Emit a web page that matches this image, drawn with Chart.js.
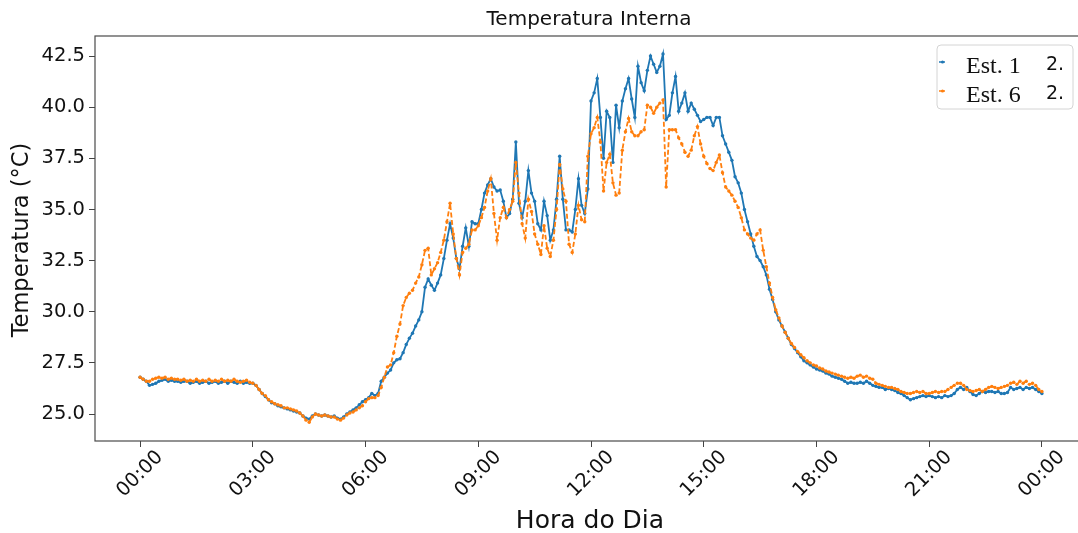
<!DOCTYPE html>
<html>
<head>
<meta charset="utf-8">
<script src="https://cdn.jsdelivr.net/npm/chart.js@4"></script>
<style>
  html, body { margin: 0; padding: 0; background: #fff; overflow: hidden; width: 1078px; height: 533px; }
  canvas { display: block; }
</style>
</head>
<body>
<canvas id="chart" width="1100" height="533"></canvas>
<script>
// Internal temperature, one reading every 5 minutes (00:00 .. 24:00), one row per hour
const SAMPLE_MINUTES = 5;

const est1 = [
  26.8, 26.7, 26.6, 26.4, 26.45, 26.5, 26.6, 26.65, 26.7, 26.6, 26.65, 26.6,
  26.6, 26.55, 26.6, 26.6, 26.5, 26.55, 26.6, 26.5, 26.55, 26.6, 26.5, 26.55,
  26.6, 26.5, 26.55, 26.6, 26.5, 26.6, 26.55, 26.5, 26.6, 26.5, 26.55, 26.5,
  26.5, 26.4, 26.2, 26.0, 25.85, 25.7, 25.55, 25.5, 25.4, 25.35, 25.3, 25.25,
  25.2, 25.15, 25.1, 25.05, 24.9, 24.8, 24.75, 24.9, 25.0, 24.95, 24.9, 24.95,
  24.9, 24.85, 24.9, 24.8, 24.75, 24.85, 25.0, 25.1, 25.2, 25.3, 25.45, 25.6,
  25.7, 25.8, 26.0, 25.9, 26.0, 26.6, 26.8, 27.0, 27.15, 27.5, 27.65, 27.7,
  28.0, 28.4, 28.7, 28.95, 29.3, 29.6, 30.0, 31.2, 31.6, 31.3, 31.05, 31.4,
  31.8, 32.6, 33.5, 34.3, 33.6, 32.6, 32.1, 33.2, 34.1, 33.2, 34.4, 34.3,
  34.3, 35.0, 35.8, 36.2, 36.5, 36.1, 35.9, 35.95, 35.4, 34.6, 34.8, 35.5,
  38.3, 35.3, 34.6, 35.4, 36.9, 35.8, 35.4, 34.3, 34.0, 35.4, 34.7, 33.5,
  34.0, 35.5, 37.6, 35.5, 34.0, 34.0, 33.9, 35.0, 36.5, 35.2, 34.8, 36.0,
  40.3, 40.7, 41.4, 39.5, 37.5, 39.8, 39.5, 37.3, 40.1, 39.0, 40.3, 40.9,
  41.4, 40.4, 39.5, 42.0, 41.2, 40.8, 41.8, 42.5, 42.1, 41.7, 42.0, 42.6,
  39.4, 39.6, 40.7, 41.5, 39.8, 40.2, 40.7, 39.8, 40.2, 39.9, 39.6, 39.3,
  39.4, 39.5, 39.5, 39.1, 39.5, 39.5, 38.6, 38.2, 37.8, 37.4, 36.6, 36.3,
  35.8, 35.0, 34.4, 33.8, 33.2, 32.7, 32.5, 32.2, 31.8, 31.1, 30.6, 30.0,
  29.6, 29.3, 29.0, 28.7, 28.4, 28.2, 28.0, 27.8, 27.6, 27.5, 27.4, 27.3,
  27.2, 27.15, 27.1, 27.0, 26.95, 26.85, 26.8, 26.75, 26.7, 26.6, 26.5, 26.55,
  26.5, 26.5, 26.55, 26.5, 26.6, 26.5, 26.4, 26.35, 26.3, 26.3, 26.2, 26.25,
  26.2, 26.15, 26.05, 26.0, 25.9, 25.8, 25.7, 25.75, 25.8, 25.85, 25.9, 25.85,
  25.9, 25.85, 25.8, 25.85, 25.8, 25.9, 25.85, 25.9, 26.0, 26.2, 26.3, 26.2,
  26.3, 26.1, 25.95, 25.9, 26.0, 26.1, 26.05, 26.1, 26.1, 26.05, 26.1, 26.0,
  26.0, 26.05, 26.3, 26.2, 26.25, 26.3, 26.2, 26.3, 26.25, 26.3, 26.2, 26.1,
  26.0
];

const est6 = [
  26.8, 26.7, 26.6, 26.6, 26.7, 26.75, 26.8, 26.75, 26.8, 26.7, 26.75, 26.7,
  26.7, 26.65, 26.7, 26.6, 26.65, 26.6, 26.7, 26.6, 26.65, 26.6, 26.7, 26.6,
  26.65, 26.6, 26.7, 26.6, 26.65, 26.6, 26.7, 26.6, 26.55, 26.6, 26.65, 26.55,
  26.5, 26.4, 26.2, 26.0, 25.9, 25.7, 25.6, 25.5, 25.45, 25.4, 25.3, 25.3,
  25.25, 25.2, 25.15, 25.05, 24.9, 24.7, 24.6, 24.85, 25.0, 24.95, 24.9, 24.95,
  24.9, 24.85, 24.85, 24.75, 24.7, 24.8, 24.95, 25.05, 25.1, 25.2, 25.3, 25.4,
  25.6, 25.75, 25.8, 25.8, 25.9, 26.3, 26.8, 27.3, 27.4, 28.0, 28.8, 29.4,
  30.3, 30.7, 30.9, 31.05, 31.4, 31.7, 32.3, 33.0, 33.1, 31.8, 32.1, 32.4,
  32.9, 33.5, 34.4, 35.3, 33.8, 32.6, 31.8, 32.9, 33.1, 33.3, 34.0, 34.0,
  34.2, 34.6, 35.1, 35.9, 36.5, 34.8, 33.5, 34.6, 35.1, 34.6, 35.0, 35.4,
  37.3, 35.8, 34.3, 33.6, 35.5, 34.9, 33.8, 33.3, 32.8, 34.2, 33.1, 32.7,
  33.5, 35.0, 37.2, 36.0, 35.4, 33.3, 32.9, 33.8, 35.2, 34.5, 34.4, 37.6,
  38.7, 39.0, 39.5, 38.3, 35.9, 37.3, 37.7, 36.3, 35.7, 35.8, 37.9, 38.8,
  39.45, 38.8, 38.6, 38.6, 38.8, 38.9, 40.1, 40.0, 39.7, 40.0, 40.2, 40.35,
  36.1, 38.9, 38.9, 38.9, 38.5, 38.2, 37.8, 37.6, 37.9, 38.6, 39.05, 38.2,
  37.6, 37.25, 37.0, 36.9, 37.3, 37.66, 36.8, 36.1, 35.9, 35.7, 35.4, 35.1,
  34.6, 34.0, 33.8, 33.6, 33.5, 33.8, 34.0, 33.0, 32.2, 31.4, 30.7, 30.1,
  29.7, 29.3, 29.0, 28.7, 28.45, 28.25, 28.05, 27.9, 27.75, 27.6, 27.5, 27.4,
  27.35, 27.25, 27.2, 27.1, 27.05, 27.0, 26.95, 26.9, 26.85, 26.8, 26.75, 26.8,
  26.75, 26.85, 26.9, 26.8, 26.85, 26.75, 26.7, 26.5, 26.45, 26.4, 26.35, 26.3,
  26.3, 26.25, 26.2, 26.1, 26.05, 26.0, 26.0, 26.05, 26.1, 26.05, 26.1, 26.0,
  26.0, 26.05, 26.1, 26.05, 26.1, 26.1, 26.2, 26.3, 26.4, 26.5, 26.5, 26.4,
  26.2, 26.15, 26.1, 26.15, 26.2, 26.1, 26.2, 26.3, 26.35, 26.3, 26.25, 26.3,
  26.35, 26.4, 26.5, 26.55, 26.45, 26.6, 26.5, 26.6, 26.45, 26.5, 26.4, 26.2,
  26.1
];

const seriesNames = ['Est. 1', 'Est. 6'];
const legendTail = ['2.', '2.'];
const seriesColors = ['#1f77b4', '#ff7f0e'];

const xTickHours = [0, 3, 6, 9, 12, 15, 18, 21, 24];
const xTickLabels = ['00:00', '03:00', '06:00', '09:00', '12:00', '15:00', '18:00', '21:00', '00:00'];
const yTicks = [25.0, 27.5, 30.0, 32.5, 35.0, 37.5, 40.0, 42.5];

const chartTitle = 'Temperatura Interna';
const xTitle = 'Hora do Dia';
const yTitle = 'Temperatura (°C)';

const SANS = '"DejaVu Sans", sans-serif';
const SERIF = '"Liberation Serif", "DejaVu Serif", serif';

function toPoints(values) {
  return values.map((v, i) => ({ x: i * SAMPLE_MINUTES / 60, y: v }));
}

// Frame, rotated hour labels, titles and legend box
const decorations = {
  id: 'decorations',
  afterDraw(chart) {
    const ctx = chart.ctx;
    const a = chart.chartArea;
    const xs = chart.scales.x;
    ctx.save();

    ctx.strokeStyle = '#4a4a4a';
    ctx.lineWidth = 1.2;
    ctx.strokeRect(a.left, a.top, a.right - a.left, a.bottom - a.top);

    ctx.fillStyle = '#111';
    ctx.textAlign = 'center';
    ctx.textBaseline = 'middle';
    ctx.font = '19.5px ' + SANS;
    xTickHours.forEach((h, k) => {
      const px = xs.getPixelForValue(h);
      ctx.save();
      ctx.translate(px, 474);
      ctx.rotate(-Math.PI / 4);
      ctx.fillText(xTickLabels[k], 0, 0);
      ctx.restore();
    });

    const cx = (a.left + a.right) / 2;
    ctx.font = '25px ' + SANS;
    ctx.fillText(xTitle, cx - 1, 521);

    ctx.font = '20px ' + SANS;
    ctx.fillText(chartTitle, cx - 2, 20);

    ctx.save();
    ctx.translate(22, 240);
    ctx.rotate(-Math.PI / 2);
    ctx.font = '22.5px ' + SANS;
    ctx.fillText(yTitle, 0, 0);
    ctx.restore();

    // legend
    const lx = 937, ly = 45, lw = 136, lh = 64;
    ctx.beginPath();
    ctx.roundRect(lx, ly, lw, lh, 4);
    ctx.fillStyle = 'rgba(255,255,255,0.9)';
    ctx.fill();
    ctx.strokeStyle = '#d4d4d4';
    ctx.lineWidth = 1;
    ctx.stroke();

    const rows = [62, 91];
    rows.forEach((ry, k) => {
      ctx.strokeStyle = seriesColors[k];
      ctx.lineWidth = 1.5;
      ctx.beginPath();
      ctx.moveTo(939, ry);
      ctx.lineTo(945, ry);
      ctx.stroke();
      ctx.fillStyle = seriesColors[k];
      ctx.beginPath();
      ctx.arc(942.5, ry, 1.5, 0, Math.PI * 2);
      ctx.fill();

      ctx.fillStyle = '#111';
      ctx.textAlign = 'left';
      ctx.textBaseline = 'alphabetic';
      ctx.font = '24px ' + SERIF;
      ctx.fillText(seriesNames[k], 966, ry + 11);
      ctx.font = '19px ' + SANS;
      ctx.fillText(legendTail[k], 1046, ry + 8);
    });

    ctx.restore();
  }
};

new Chart(document.getElementById('chart'), {
  type: 'line',
  data: {
    datasets: [
      {
        label: seriesNames[0],
        data: toPoints(est1),
        borderColor: seriesColors[0],
        backgroundColor: seriesColors[0],
        borderWidth: 1.8,
        pointRadius: 1.7,
        pointBorderWidth: 0,
        pointHoverRadius: 0,
        tension: 0,
        order: 2
      },
      {
        label: seriesNames[1],
        data: toPoints(est6),
        borderColor: seriesColors[1],
        backgroundColor: seriesColors[1],
        borderWidth: 1.8,
        borderDash: [5, 2.5],
        pointRadius: 1.7,
        pointBorderWidth: 0,
        pointHoverRadius: 0,
        tension: 0,
        order: 1
      }
    ]
  },
  options: {
    responsive: false,
    animation: false,
    events: [],
    layout: { padding: { top: 36, right: 13, left: 0, bottom: 0 } },
    plugins: { legend: { display: false }, tooltip: { enabled: false }, title: { display: false } },
    scales: {
      x: {
        type: 'linear',
        min: -1.2,
        max: 25.2,
        afterBuildTicks: (s) => { s.ticks = xTickHours.map(v => ({ value: v })); },
        afterFit: (s) => { s.height = 92; },
        ticks: { display: false },
        grid: { drawOnChartArea: false, drawTicks: true, tickLength: 6, color: '#444', lineWidth: 1 },
        border: { display: false }
      },
      y: {
        type: 'linear',
        min: 23.68,
        max: 43.48,
        afterBuildTicks: (s) => { s.ticks = yTicks.map(v => ({ value: v })); },
        afterFit: (s) => { s.width = 95; },
        ticks: {
          color: '#111',
          padding: 4,
          font: { family: 'DejaVu Sans', size: 19.5 },
          callback: (v) => Number(v).toFixed(1)
        },
        grid: { drawOnChartArea: false, drawTicks: true, tickLength: 6, color: '#444', lineWidth: 1 },
        border: { display: false }
      }
    }
  },
  plugins: [decorations]
});
</script>
</body>
</html>
